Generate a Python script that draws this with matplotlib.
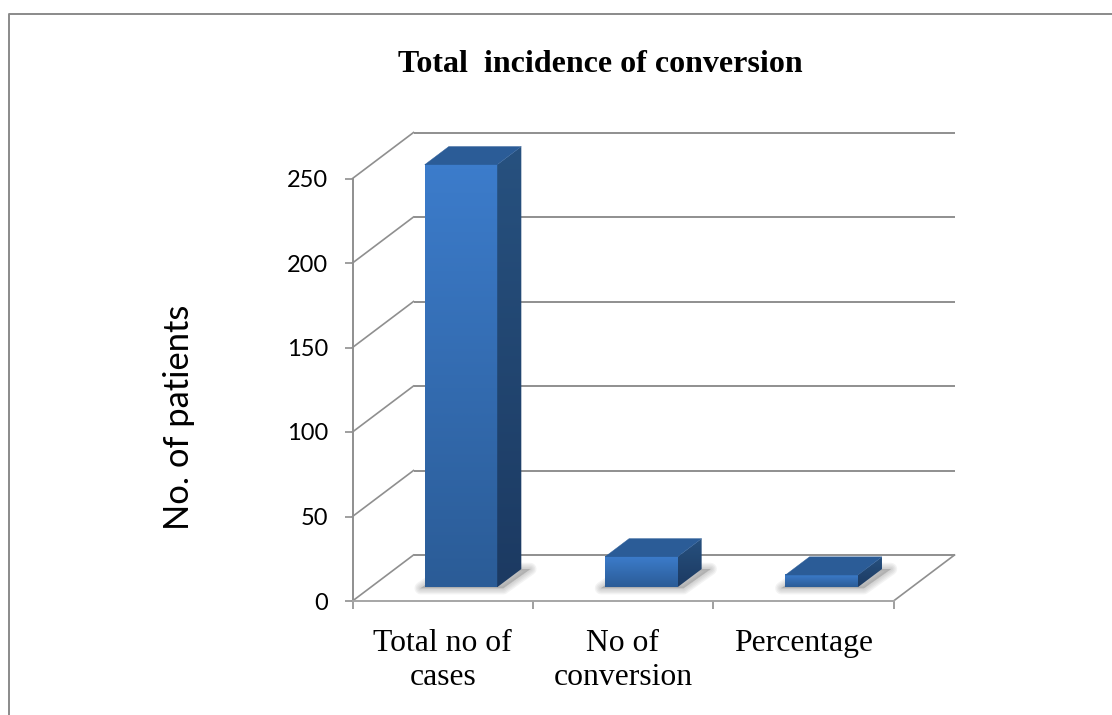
import numpy as np
import matplotlib
matplotlib.use("Agg")
import matplotlib.pyplot as plt
from matplotlib.patches import Polygon
from matplotlib.transforms import Affine2D
from matplotlib.colors import LinearSegmentedColormap

categories = ["Total no of\ncases", "No of\nconversion", "Percentage"]
values = [250, 18, 7.2]
yticks = [0, 50, 100, 150, 200, 250]
title = "Total  incidence of conversion"
ylabel = "No. of patients"

W, H = 1112, 715
fig = plt.figure(figsize=(W / 100, H / 100), dpi=100, facecolor="white")
L, R, T, B = 352.5, 893.5, 178.5, 601
ax = fig.add_axes([L / W, 1 - B / H, (R - L) / W, (B - T) / H])
ax.set_xlim(0, 3)
ax.set_ylim(0, 250)
ax.patch.set_alpha(0)
for s in ax.spines.values():
    s.set_visible(False)

GRID = "#8f8f8f"
DX, DY = 61, 46
BAR_W = 0.402
FRONT = 0.30
DEPTH = 0.395


def off(f):
    return ax.transData + Affine2D().translate(DX * f, DY * f)


# walls and floor
for v in yticks:
    ax.plot([0, 3], [v, v], transform=off(1), color=GRID, lw=1.4, clip_on=False, zorder=1,
            solid_capstyle="butt")
    xs = np.array([ax.transData.transform((0, v)), off(1).transform((0, v))])
    ax.plot(xs[:, 0], xs[:, 1], transform=None, color=GRID, lw=1.2, clip_on=False, zorder=1)
xs = np.array([ax.transData.transform((3, 0)), off(1).transform((3, 0))])
ax.plot(xs[:, 0], xs[:, 1], transform=None, color=GRID, lw=1.2, clip_on=False, zorder=1)

# axes
ax.plot([0, 0], [0, 250], color=GRID, lw=1.4, clip_on=False, zorder=2)
ax.plot([0, 3], [0, 0], color="#a6a6a6", lw=1.4, clip_on=False, zorder=2)
ax.set_xticks(range(4))
ax.set_xticklabels([])
ax.set_yticks(yticks)
ax.tick_params(axis="y", length=6, width=1.2, color=GRID, pad=11.5, labelsize=17,
               labelfontfamily="Lato", labelcolor="black")
ax.tick_params(axis="x", length=6, width=1.2, color=GRID)
for lab in ax.get_yticklabels():
    lab.set_verticalalignment("center_baseline")

for i, c in enumerate(categories):
    ax.annotate(c, xy=(i + 0.5, 0), xycoords=("data", "axes fraction"), xytext=(0, -20.5),
                textcoords="offset points", ha="center", va="top",
                family="Liberation Serif", fontsize=22.8, linespacing=1.21, annotation_clip=False)

front_cmap = LinearSegmentedColormap.from_list("front", ["#3c7ccb", "#2b5c97"])
side_cmap = LinearSegmentedColormap.from_list("side", ["#27517f", "#1c3a62"])


def disp(x, y, f):
    return off(f).transform((x, y))


grad = np.linspace(0, 1, 64).reshape(-1, 1)
for i, v in enumerate(values):
    x0, x1 = i + 0.5 - BAR_W / 2, i + 0.5 + BAR_W / 2
    f0, f1 = FRONT, FRONT + DEPTH
    # soft shadow on the floor
    shadow = [disp(x0, 0, f0) + (-4, -1), disp(x1, 0, f0) + (6, -1),
              disp(x1, 0, f1) + (9, 0), disp(x0, 0, f1)]
    for lw in [9, 7, 5, 3, 1]:
        ax.add_patch(Polygon(shadow, closed=True, transform=None, facecolor="#808080",
                             edgecolor="#808080", lw=lw, alpha=0.09, zorder=3, clip_on=False,
                             joinstyle="round"))
    # front face
    ax.imshow(grad, extent=(x0, x1, 0, v), origin="upper", aspect="auto", cmap=front_cmap,
              transform=off(f0), zorder=5, clip_on=False, interpolation="bilinear")
    # side face
    side = Polygon([disp(x1, 0, f0), disp(x1, 0, f1), disp(x1, v, f1), disp(x1, v, f0)],
                   closed=True, transform=None, facecolor="none", edgecolor="none", zorder=5,
                   clip_on=False)
    ax.add_patch(side)
    im2 = ax.imshow(grad, extent=(x1, x1 + 0.14, 0, v + 11), origin="upper", aspect="auto",
                    cmap=side_cmap, transform=off(f0), zorder=5, interpolation="bilinear")
    im2.set_clip_path(side)
    im2.set_clip_box(fig.bbox)
    # top face
    ax.add_patch(Polygon([disp(x0, v, f0), disp(x1, v, f0), disp(x1, v, f1), disp(x0, v, f1)],
                         closed=True, transform=None, facecolor="#2b5c97", edgecolor="#2b5c97",
                         lw=0.3, zorder=6, clip_on=False))

ax.set_xlim(0, 3)
ax.set_ylim(0, 250)

fig.text(600 / W, 1 - 64.5 / H, title, ha="center", va="center", family="Liberation Serif",
         fontweight="bold", fontsize=23)
fig.text(179 / W, 1 - 417 / H, ylabel, rotation=90, ha="center", va="center", family="Lato",
         fontsize=24.8)

# chart frame (runs off the right and bottom of the picture)
fig.add_artist(plt.Line2D([8.5 / W, 8.5 / W, 1], [0, 1 - 13.5 / H, 1 - 13.5 / H],
                          color="#8a8a8a", lw=1.4))

fig.savefig("out.png", dpi=100)
